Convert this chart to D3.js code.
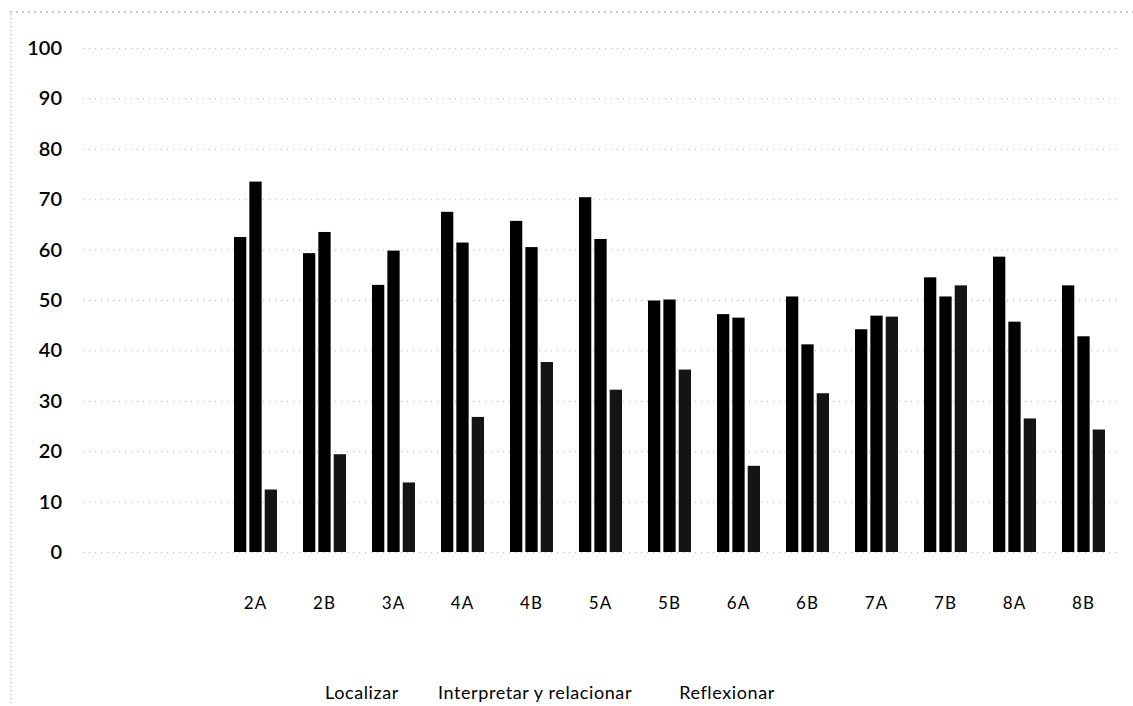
<!doctype html>
<html lang="es">
  <head>
    <meta charset="utf-8">
    <title>Localizar / Interpretar / Reflexionar</title>
    <style>
      * { margin: 0; padding: 0; }
      body { width: 1133px; height: 706px; overflow: hidden; background: #fff; }
      svg { display: block; font-family: Lato, "Open Sans", sans-serif; }
    </style>
    <script src="https://cdn.jsdelivr.net/npm/d3@7"></script>
  </head>
  <body>
    <svg id="chart" width="1133" height="706"></svg>

    <script>
      // data
      const categories = ["2A", "2B", "3A", "4A", "4B", "5A", "5B", "6A", "6B", "7A", "7B", "8A", "8B"];
      const seriesNames = ["Localizar", "Interpretar y relacionar", "Reflexionar"];
      const localizar   = [62.5, 59.3, 53.0, 67.5, 65.7, 70.4, 49.9, 47.2, 50.7, 44.2, 54.5, 58.6, 52.9];
      const interpretar = [73.5, 63.5, 59.8, 61.4, 60.5, 62.1, 50.1, 46.5, 41.2, 46.9, 50.7, 45.7, 42.8];
      const reflexionar = [12.4, 19.4, 13.8, 26.8, 37.7, 32.2, 36.2, 17.1, 31.5, 46.7, 52.9, 26.5, 24.3];
      const yTicks = [0, 10, 20, 30, 40, 50, 60, 70, 80, 90, 100];

      const seriesValues = [localizar, interpretar, reflexionar];
      const seriesColors = ["#000", "#000", "#141414"];

      const svg = d3.select("#chart");

      const plot = { left: 83, right: 1118, top: 48, bottom: 552 };
      const step = 69; // width of one category slot; the first two slots are empty

      const y = d3.scaleLinear().domain([0, 100]).range([plot.bottom, plot.top]);

      const x = d3.scaleBand()
              .domain(categories)
              .range([plot.left + 2 * step, plot.right])
              .paddingInner(0.377)
              .paddingOuter(0.377 / 2);

      const xs = d3.scaleBand()
              .domain(d3.range(seriesValues.length))
              .range([0, x.bandwidth()])
              .paddingInner(0.2);

      // scan border remnants
      svg.append("line")
          .attr("x1", 10).attr("x2", 1133).attr("y1", 12).attr("y2", 12)
          .attr("stroke", "#8a8a8a").attr("stroke-dasharray", "2,4");
      svg.append("line")
          .attr("x1", 11).attr("x2", 11).attr("y1", 14).attr("y2", 706)
          .attr("stroke", "#8a8a8a").attr("stroke-dasharray", "1,3");

      // gridlines
      svg.append("g")
          .selectAll("line")
          .data(yTicks)
          .join("line")
            .attr("x1", plot.left).attr("x2", plot.right)
            .attr("y1", d => y(d) + 0.5).attr("y2", d => y(d) + 0.5)
            .attr("stroke", "#b0b0b0")
            .attr("stroke-dasharray", "1,5");

      // y axis labels
      const yAxis = svg.append("g")
          .attr("transform", `translate(62,0)`)
          .call(d3.axisLeft(y).tickValues(yTicks).tickSize(0).tickPadding(0));
      yAxis.select(".domain").remove();
      yAxis.selectAll("text")
          .attr("font-family", "Lato, sans-serif")
          .attr("font-size", 20)
          .attr("font-weight", 600)
          .attr("fill", "#000");

      // bars
      const groups = svg.append("g")
          .selectAll("g")
          .data(categories)
          .join("g")
            .attr("transform", d => `translate(${x(d)},0)`);

      groups.selectAll("rect")
          .data((d, i) => seriesValues.map((vals, s) => ({ s, v: vals[i] })))
          .join("rect")
            .attr("x", d => xs(d.s))
            .attr("width", xs.bandwidth())
            .attr("y", d => y(d.v))
            .attr("height", d => y(0) - y(d.v))
            .attr("fill", d => seriesColors[d.s]);

      // x axis labels
      const xAxis = svg.append("g")
          .attr("transform", `translate(0,${plot.bottom + 45})`)
          .call(d3.axisBottom(x).tickSize(0).tickPadding(0));
      xAxis.select(".domain").remove();
      xAxis.selectAll("text")
          .attr("font-family", "Lato, sans-serif")
          .attr("font-size", 17)
          .attr("letter-spacing", 1)
          .attr("fill", "#000");

      // legend (keys lost in the scan, only the names remain)
      const legendX = [362, 535, 727];
      svg.append("g")
          .selectAll("text")
          .data(seriesNames)
          .join("text")
            .attr("x", (d, i) => legendX[i])
            .attr("y", 699)
            .attr("text-anchor", "middle")
            .attr("font-size", 18)
            .attr("letter-spacing", 0.6)
            .attr("fill", "#000")
            .text(d => d);
    </script>
  </body>
</html>
